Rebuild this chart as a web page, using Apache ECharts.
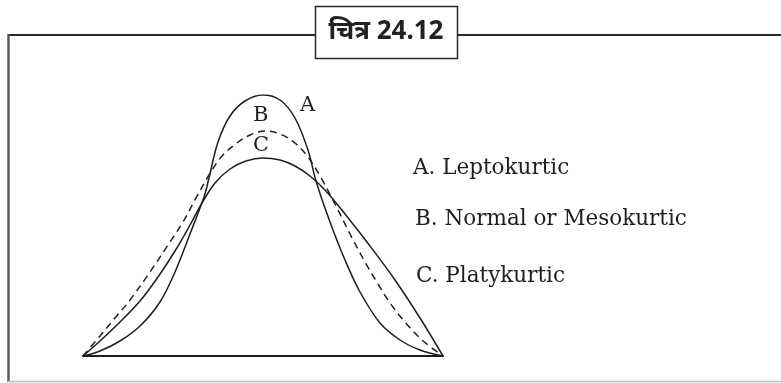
<!DOCTYPE html>
<html>
<head>
<meta charset="utf-8">
<script src="https://cdn.jsdelivr.net/npm/echarts@6/dist/echarts.min.js"></script>
<style>
  html, body { margin: 0; padding: 0; background: #fff; }
  #chart { width: 781px; height: 383px; }
</style>
</head>
<body>
<div id="chart"></div>
<script>
// Three kurtosis curves sketched on a common base (horizontal units 0..360, heights 0..261)
const leptoX = [0, 17, 37, 57, 77, 92, 107, 121, 126, 135, 147, 162, 180, 197, 212, 225, 233, 247, 262, 277, 297, 317, 337, 360];
const leptoY = [0, 5, 15, 30, 54, 84, 122, 159, 178, 214, 240, 255, 261, 256, 238, 206, 175, 134, 96, 64, 33, 16, 6, 0];

const mesoX = [0, 17, 32, 47, 67, 87, 100, 113, 126, 139, 154, 167, 182, 197, 212, 225, 237, 252, 267, 282, 295, 307, 322, 339, 360];
const mesoY = [0, 20, 38, 56, 84, 114, 134, 158, 181, 200, 213, 221, 225, 222, 213, 199, 180, 152, 122, 94, 72, 53, 34, 16, 0];

const platyX = [0, 17, 37, 57, 75, 92, 107, 119, 132, 147, 163, 180, 197, 212, 227, 242, 262, 287, 312, 337, 360];
const platyY = [0, 15, 34, 55, 79, 105, 131, 153, 173, 187, 195, 198, 196, 190, 180, 166, 142, 110, 76, 38, 0];

const curveLetters = ['A', 'B', 'C'];
const legendLines = ['A. Leptokurtic', 'B. Normal or Mesokurtic', 'C. Platykurtic'];
const figureTitle = 'चित्र 24.12';

const pair = (xs, ys) => xs.map((x, i) => [x, ys[i]]);

const serif = '"DejaVu Serif", "Liberation Serif", serif';
const ink = '#1e1e1e';

const chart = echarts.init(document.getElementById('chart'), null, { renderer: 'canvas' });

const curveStyle = (type) => ({
  type: 'line',
  smooth: 0.35,
  showSymbol: false,
  silent: true,
  lineStyle: { color: ink, width: 1.5, type: type },
  z: 3
});

const label = (txt, x, y, size) => ({
  type: 'text', x: x, y: y, z: 4,
  style: { text: txt, font: size + 'px ' + serif, fill: ink, verticalAlign: 'middle', align: 'left' }
});

chart.setOption({
  animation: false,
  backgroundColor: '#fff',
  grid: { left: 83, top: 95, width: 360, height: 261 },
  xAxis: {
    type: 'value', min: 0, max: 360,
    axisLine: { show: true, lineStyle: { color: ink, width: 2 } },
    axisTick: { show: false }, axisLabel: { show: false }, splitLine: { show: false }
  },
  yAxis: {
    type: 'value', min: 0, max: 261,
    axisLine: { show: false }, axisTick: { show: false },
    axisLabel: { show: false }, splitLine: { show: false }
  },
  series: [
    Object.assign(curveStyle('solid'), { name: 'A', data: pair(leptoX, leptoY) }),
    Object.assign(curveStyle([7, 5]), { name: 'B', data: pair(mesoX, mesoY) }),
    Object.assign(curveStyle('solid'), { name: 'C', data: pair(platyX, platyY) })
  ],
  graphic: [
    // frame: dark top and left edges, light bottom edge
    { type: 'line', shape: { x1: 8, y1: 35, x2: 781, y2: 35 }, style: { stroke: '#2a2a2a', lineWidth: 2 }, z: 1 },
    { type: 'line', shape: { x1: 8.5, y1: 34, x2: 8.5, y2: 382 }, style: { stroke: '#5a5a5a', lineWidth: 2.5 }, z: 1 },
    { type: 'line', shape: { x1: 8, y1: 381.5, x2: 781, y2: 381.5 }, style: { stroke: '#bdbdbd', lineWidth: 1.5 }, z: 1 },
    // caption box
    { type: 'rect', shape: { x: 315.5, y: 6.5, width: 142, height: 52 }, style: { fill: '#fff', stroke: '#2a2a2a', lineWidth: 1.5 }, z: 2 },
    { type: 'text', x: 386, y: 32, z: 3,
      style: { text: figureTitle, font: 'bold 26px "Noto Sans", "DejaVu Sans", sans-serif', fill: '#222', align: 'center', verticalAlign: 'middle' } },
    // letters on the curves
    label(curveLetters[0], 300, 106, 21),
    label(curveLetters[1], 253, 116, 21),
    label(curveLetters[2], 253, 146, 21),
    // key
    label(legendLines[0], 413, 168, 21.5),
    label(legendLines[1], 415, 219, 21.5),
    label(legendLines[2], 416, 276, 21.5)
  ]
});
</script>
</body>
</html>
